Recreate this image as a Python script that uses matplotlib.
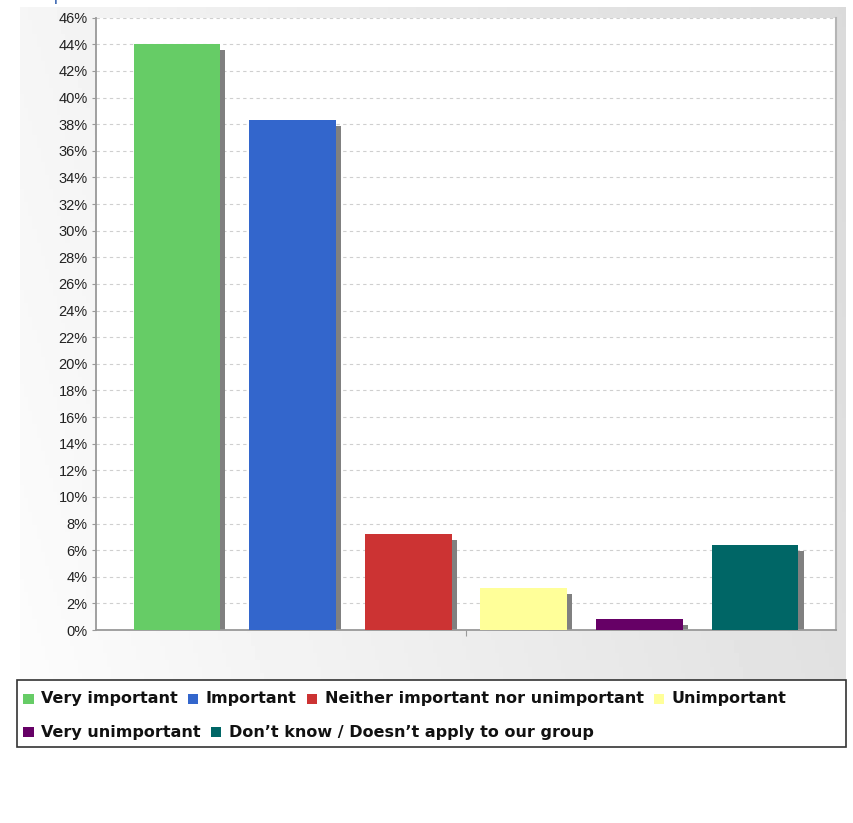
import numpy as np
import matplotlib
matplotlib.use("Agg")
import matplotlib.pyplot as plt
from matplotlib.patches import Rectangle

# data
categories = ["Very important", "Important", "Neither important nor unimportant",
              "Unimportant", "Very unimportant", "Don\u2019t know / Doesn\u2019t apply to our group"]
values = [44.0, 38.3, 7.2, 3.15, 0.8, 6.4]
colors = ["#66cc66", "#3366cc", "#cc3333", "#ffff99", "#660066", "#006666"]
yticks = list(range(0, 47, 2))
heading = "Importance to Host"

W, H = 854, 823
fig = plt.figure(figsize=(W / 100, H / 100), dpi=100)
fig.patch.set_facecolor("white")

def fx(px):
    return px / W

def fy(py):
    return 1 - py / H

# gradient panel behind the plot
bg = fig.add_axes([fx(20), fy(680), fx(846 - 20), (680 - 7) / H], zorder=0)
gx, gy = np.meshgrid(np.linspace(0, 1, 200), np.linspace(1, 0, 100))
t = 0.8 * gx + 0.2 * gy
grad = (252 - t * (252 - 218)) / 255.0
bg.imshow(grad, cmap="gray", vmin=0, vmax=1, aspect="auto", extent=[0, 1, 0, 1])
bg.axis("off")

# main plot
ax = fig.add_axes([fx(96), fy(630), fx(836 - 96), (630 - 17.7) / H], zorder=2)
ax.set_facecolor("white")
x = np.arange(len(values))
bw = 0.75
sx, sy = 0.045, 0.45
shadow_h = [max(v - sy, 0) for v in values]
ax.bar(x + sx, shadow_h, width=bw, color="#808080", zorder=2, linewidth=0)
ax.bar(x, values, width=bw, color=colors, zorder=3, linewidth=0)

ax.set_xlim(-0.7, len(values) - 0.3)
ax.set_ylim(0, 46)
ax.set_yticks(yticks)
ax.set_yticklabels([f"{v}%" for v in yticks], fontfamily="Liberation Sans", fontsize=10.5, color="#222222")
ax.set_xticks([(len(values) - 1) / 2])
ax.set_xticklabels([""])
ax.tick_params(axis="y", length=3, color="#999999", pad=3)
ax.tick_params(axis="x", length=4, color="#999999")
ax.grid(axis="y", color="#cfcfcf", linestyle=(0, (3, 3)), linewidth=0.8, zorder=1)
ax.set_axisbelow(True)
for side in ["left", "bottom"]:
    ax.spines[side].set_color("#999999")
    ax.spines[side].set_linewidth(1.3)
ax.spines["right"].set_color("#b5b5b5")
ax.spines["right"].set_linewidth(1.5)
ax.spines["top"].set_visible(False)

# heading that is cut off at the top edge, as in the reference
fig.text(fx(32), fy(0.4), heading, color="#4a72b8", fontsize=14,
         fontfamily="Liberation Sans", va="baseline", ha="left")

# legend box with flow layout
box_l, box_r, box_t, box_b = 17, 846, 680, 747
fig.patches.append(Rectangle((fx(box_l), fy(box_b)), fx(box_r - box_l), (box_b - box_t) / H,
                             transform=fig.transFigure, facecolor="white",
                             edgecolor="#333333", linewidth=1.2, zorder=3))
renderer = fig.canvas.get_renderer()
row_y = [699, 732]
cx, row = 23, 0
for name, col in zip(categories, colors):
    probe = fig.text(0, 0, name, fontsize=11.5, fontweight="bold", fontfamily="DejaVu Sans")
    tw = probe.get_window_extent(renderer).width
    probe.remove()
    if cx + 18 + tw > box_r - 4:
        row += 1
        cx = 23
    cy = row_y[row]
    fig.patches.append(Rectangle((fx(cx), fy(cy + 5)), fx(10.5), 10.5 / H,
                                 transform=fig.transFigure, facecolor=col,
                                 edgecolor="none", zorder=4))
    fig.text(fx(cx + 18), fy(cy), name, fontsize=11.5, fontweight="bold",
             fontfamily="DejaVu Sans", color="#111111", va="center", ha="left", zorder=5)
    cx = cx + 18 + tw + 10

fig.savefig("out.png", dpi=100)
